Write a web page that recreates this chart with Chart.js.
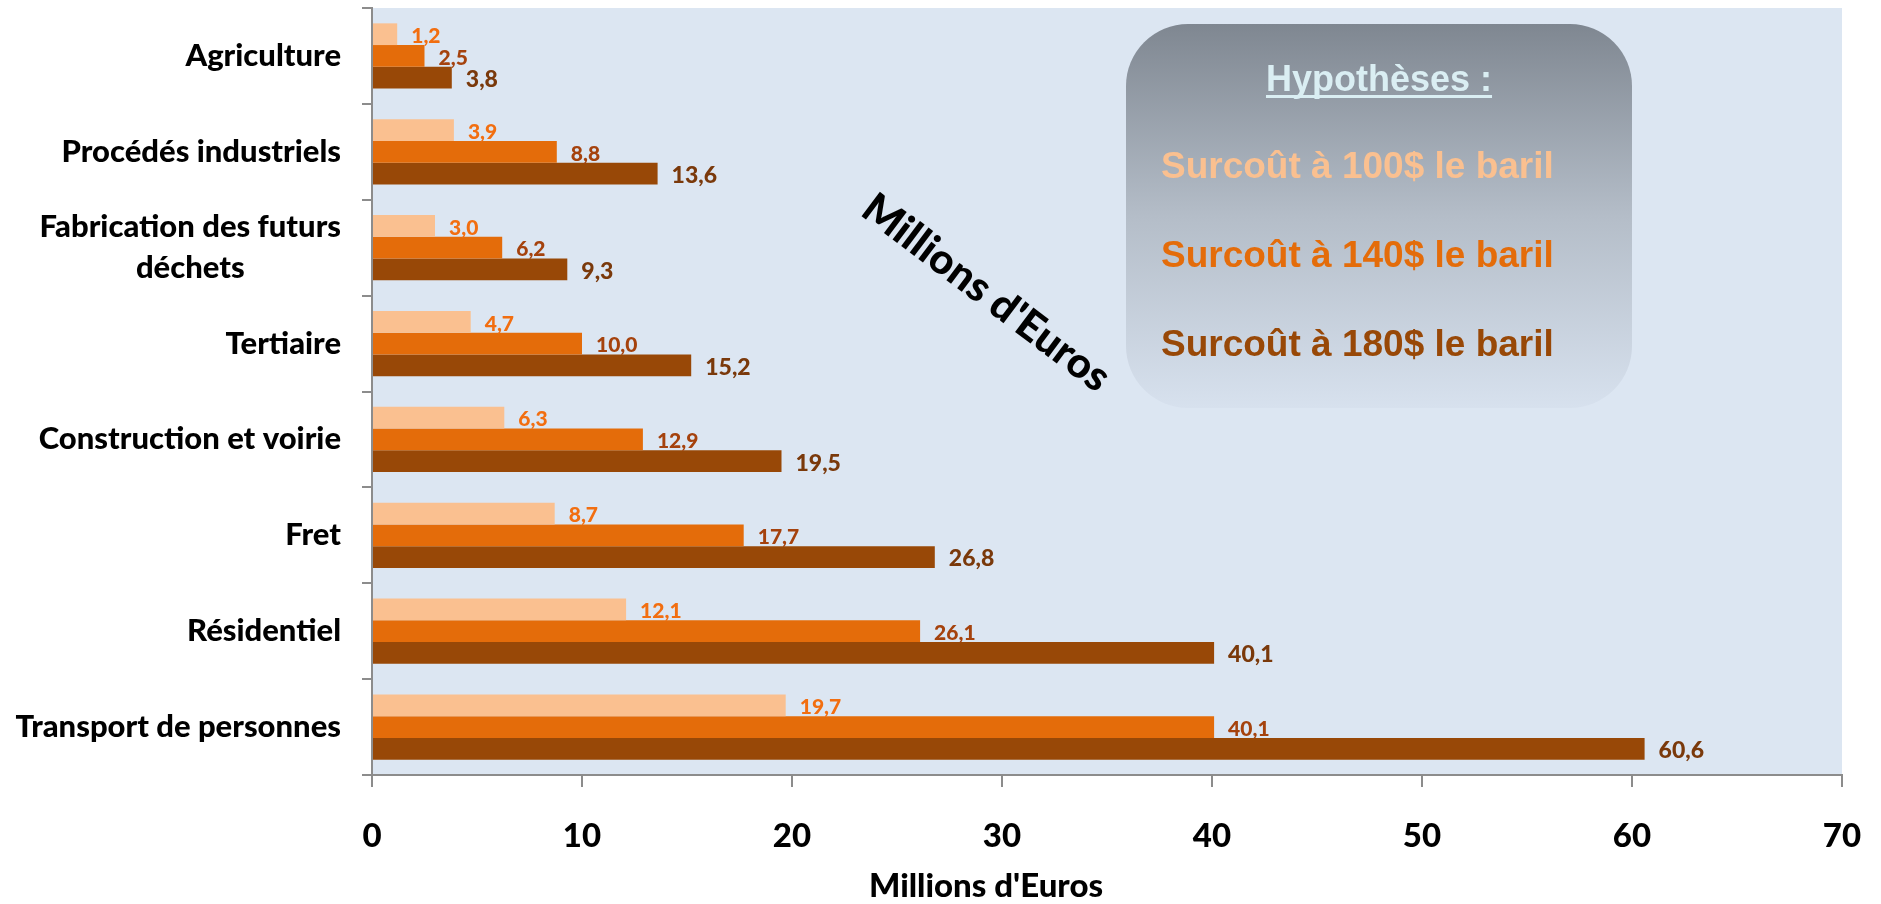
<!DOCTYPE html>
<html>
<head>
<meta charset="utf-8">
<script src="https://cdn.jsdelivr.net/npm/chart.js@4.4.1/dist/chart.umd.min.js"></script>
<style>
  html, body { margin: 0; padding: 0; background: #ffffff; }
  #wrap { width: 1881px; height: 904px; position: relative; }
</style>
</head>
<body>
<div id="wrap"><canvas id="c"></canvas></div>
<script>
// ---- data ----
const categories = [
  'Agriculture',
  'Procédés industriels',
  ['Fabrication des futurs', 'déchets'],
  'Tertiaire',
  'Construction et voirie',
  'Fret',
  'Résidentiel',
  'Transport de personnes'
];
const seriesNames = ['Surcoût à 100$ le baril', 'Surcoût à 140$ le baril', 'Surcoût à 180$ le baril'];
const surcout100 = [1.2, 3.9, 3.0, 4.7, 6.3, 8.7, 12.1, 19.7];
const surcout140 = [2.5, 8.8, 6.2, 10.0, 12.9, 17.7, 26.1, 40.1];
const surcout180 = [3.8, 13.6, 9.3, 15.2, 19.5, 26.8, 40.1, 60.6];
const xTickValues = [0, 10, 20, 30, 40, 50, 60, 70];
const axisTitle = "Millions d'Euros";
const diagonalTitle = "Millions d'Euros";
const legendTitle = 'Hypothèses :';

// ---- styles ----
const W = '900';
const barColors = ['#FAC090', '#E46C0A', '#984807'];
const labelColors = ['#F26E10', '#A5420D', '#7A390B'];
const labelSizes = [21, 21, 23];
const axisColor = '#8C8C8C';

const plotBg = {
  id: 'plotBg',
  beforeDraw(chart) {
    const { ctx, chartArea: a } = chart;
    ctx.save();
    ctx.fillStyle = '#DCE6F2';
    ctx.fillRect(a.left, a.top, a.right - a.left, a.bottom - a.top);
    ctx.restore();
  }
};

const valueLabels = {
  id: 'valueLabels',
  afterDatasetsDraw(chart) {
    const ctx = chart.ctx;
    ctx.save();
    chart.data.datasets.forEach((ds, i) => {
      const meta = chart.getDatasetMeta(i);
      ctx.font = W + ' ' + labelSizes[i] + 'px Lato';
      ctx.fillStyle = labelColors[i];
      ctx.textAlign = 'left';
      ctx.textBaseline = 'middle';
      meta.data.forEach((bar, j) => {
        const txt = ds.data[j].toFixed(1).replace('.', ',');
        ctx.fillText(txt, bar.x + 14, bar.y + 2);
      });
    });
    ctx.restore();
  }
};

const extras = {
  id: 'extras',
  afterDraw(chart) {
    const ctx = chart.ctx;
    const ys = chart.scales.y;
    const a = chart.chartArea;
    ctx.save();
    // category labels (right-aligned block, lines centered)
    ctx.font = W + ' 31px Lato';
    ctx.fillStyle = '#000000';
    ctx.textBaseline = 'middle';
    ctx.textAlign = 'center';
    const rightEdge = a.left - 31;
    const lh = 41;
    categories.forEach((lab, i) => {
      const lines = Array.isArray(lab) ? lab : [lab];
      const w = Math.max(...lines.map(l => ctx.measureText(l).width));
      const cx = rightEdge - w / 2;
      const y0 = ys.getPixelForValue(i) - (lines.length - 1) * lh / 2;
      lines.forEach((l, k) => ctx.fillText(l, cx, y0 + k * lh));
    });

    // x axis title
    ctx.font = W + ' 33px Lato';
    ctx.textAlign = 'center';
    ctx.textBaseline = 'alphabetic';
    ctx.fillText(axisTitle, 986, 897);

    // diagonal title
    ctx.save();
    ctx.translate(986, 293);
    ctx.rotate(37 * Math.PI / 180);
    ctx.font = W + ' 42px Lato';
    ctx.textAlign = 'center';
    ctx.textBaseline = 'middle';
    ctx.fillText(diagonalTitle, 0, 0);
    ctx.restore();

    // hypotheses box
    const bx = 1126, by = 24, bw = 506, bh = 384, r = 62;
    const g = ctx.createLinearGradient(0, by, 0, by + bh);
    g.addColorStop(0, '#7F8791');
    g.addColorStop(0.5, '#B4BDC8');
    g.addColorStop(1, '#D7E1EE');
    ctx.fillStyle = g;
    ctx.beginPath();
    ctx.roundRect(bx, by, bw, bh, r);
    ctx.fill();

    ctx.font = 'bold 36px "Liberation Sans"';
    ctx.textBaseline = 'alphabetic';
    ctx.textAlign = 'center';
    ctx.fillStyle = '#DAEEF3';
    ctx.fillText(legendTitle, 1379, 91);
    const tw = ctx.measureText(legendTitle).width;
    ctx.fillRect(1379 - tw / 2, 95, tw, 3);

    ctx.textAlign = 'left';
    ctx.font = 'bold 37px "Liberation Sans"';
    const baselines = [178, 267, 356];
    chart.data.datasets.forEach((ds, i) => {
      ctx.fillStyle = ds.backgroundColor;
      ctx.fillText(ds.label, 1161, baselines[i]);
    });
    ctx.restore();
  }
};

new Chart(document.getElementById('c'), {
  type: 'bar',
  data: {
    labels: categories,
    datasets: [
      { label: seriesNames[0], data: surcout100, backgroundColor: barColors[0] },
      { label: seriesNames[1], data: surcout140, backgroundColor: barColors[1] },
      { label: seriesNames[2], data: surcout180, backgroundColor: barColors[2] }
    ]
  },
  options: {
    indexAxis: 'y',
    responsive: true,
    maintainAspectRatio: false,
    animation: false,
    events: [],
    layout: { padding: { top: 8, right: 39, bottom: 0, left: 0 } },
    datasets: { bar: { categoryPercentage: 0.68, barPercentage: 1.0 } },
    plugins: { legend: { display: false }, tooltip: { enabled: false }, title: { display: false } },
    scales: {
      x: {
        type: 'linear',
        min: 0, max: 70,
        afterBuildTicks(scale) { scale.ticks = xTickValues.map(v => ({ value: v })); },
        afterFit(scale) { scale.height = 129; scale.paddingLeft = 0; scale.paddingRight = 0; },
        grid: { drawOnChartArea: false, drawTicks: true, tickLength: 12, color: axisColor, lineWidth: 2 },
        border: { display: true, color: axisColor, width: 2 },
        ticks: { color: '#000000', font: { family: 'Lato', weight: W, size: 33 }, padding: 30 }
      },
      y: {
        type: 'category',
        afterFit(scale) { scale.width = 372; scale.paddingTop = 0; scale.paddingBottom = 0; },
        grid: { offset: true, drawOnChartArea: false, drawTicks: true, tickLength: 10, color: axisColor, lineWidth: 2 },
        border: { display: true, color: axisColor, width: 2 },
        ticks: { display: false }
      }
    }
  },
  plugins: [plotBg, valueLabels, extras]
});
</script>
</body>
</html>
